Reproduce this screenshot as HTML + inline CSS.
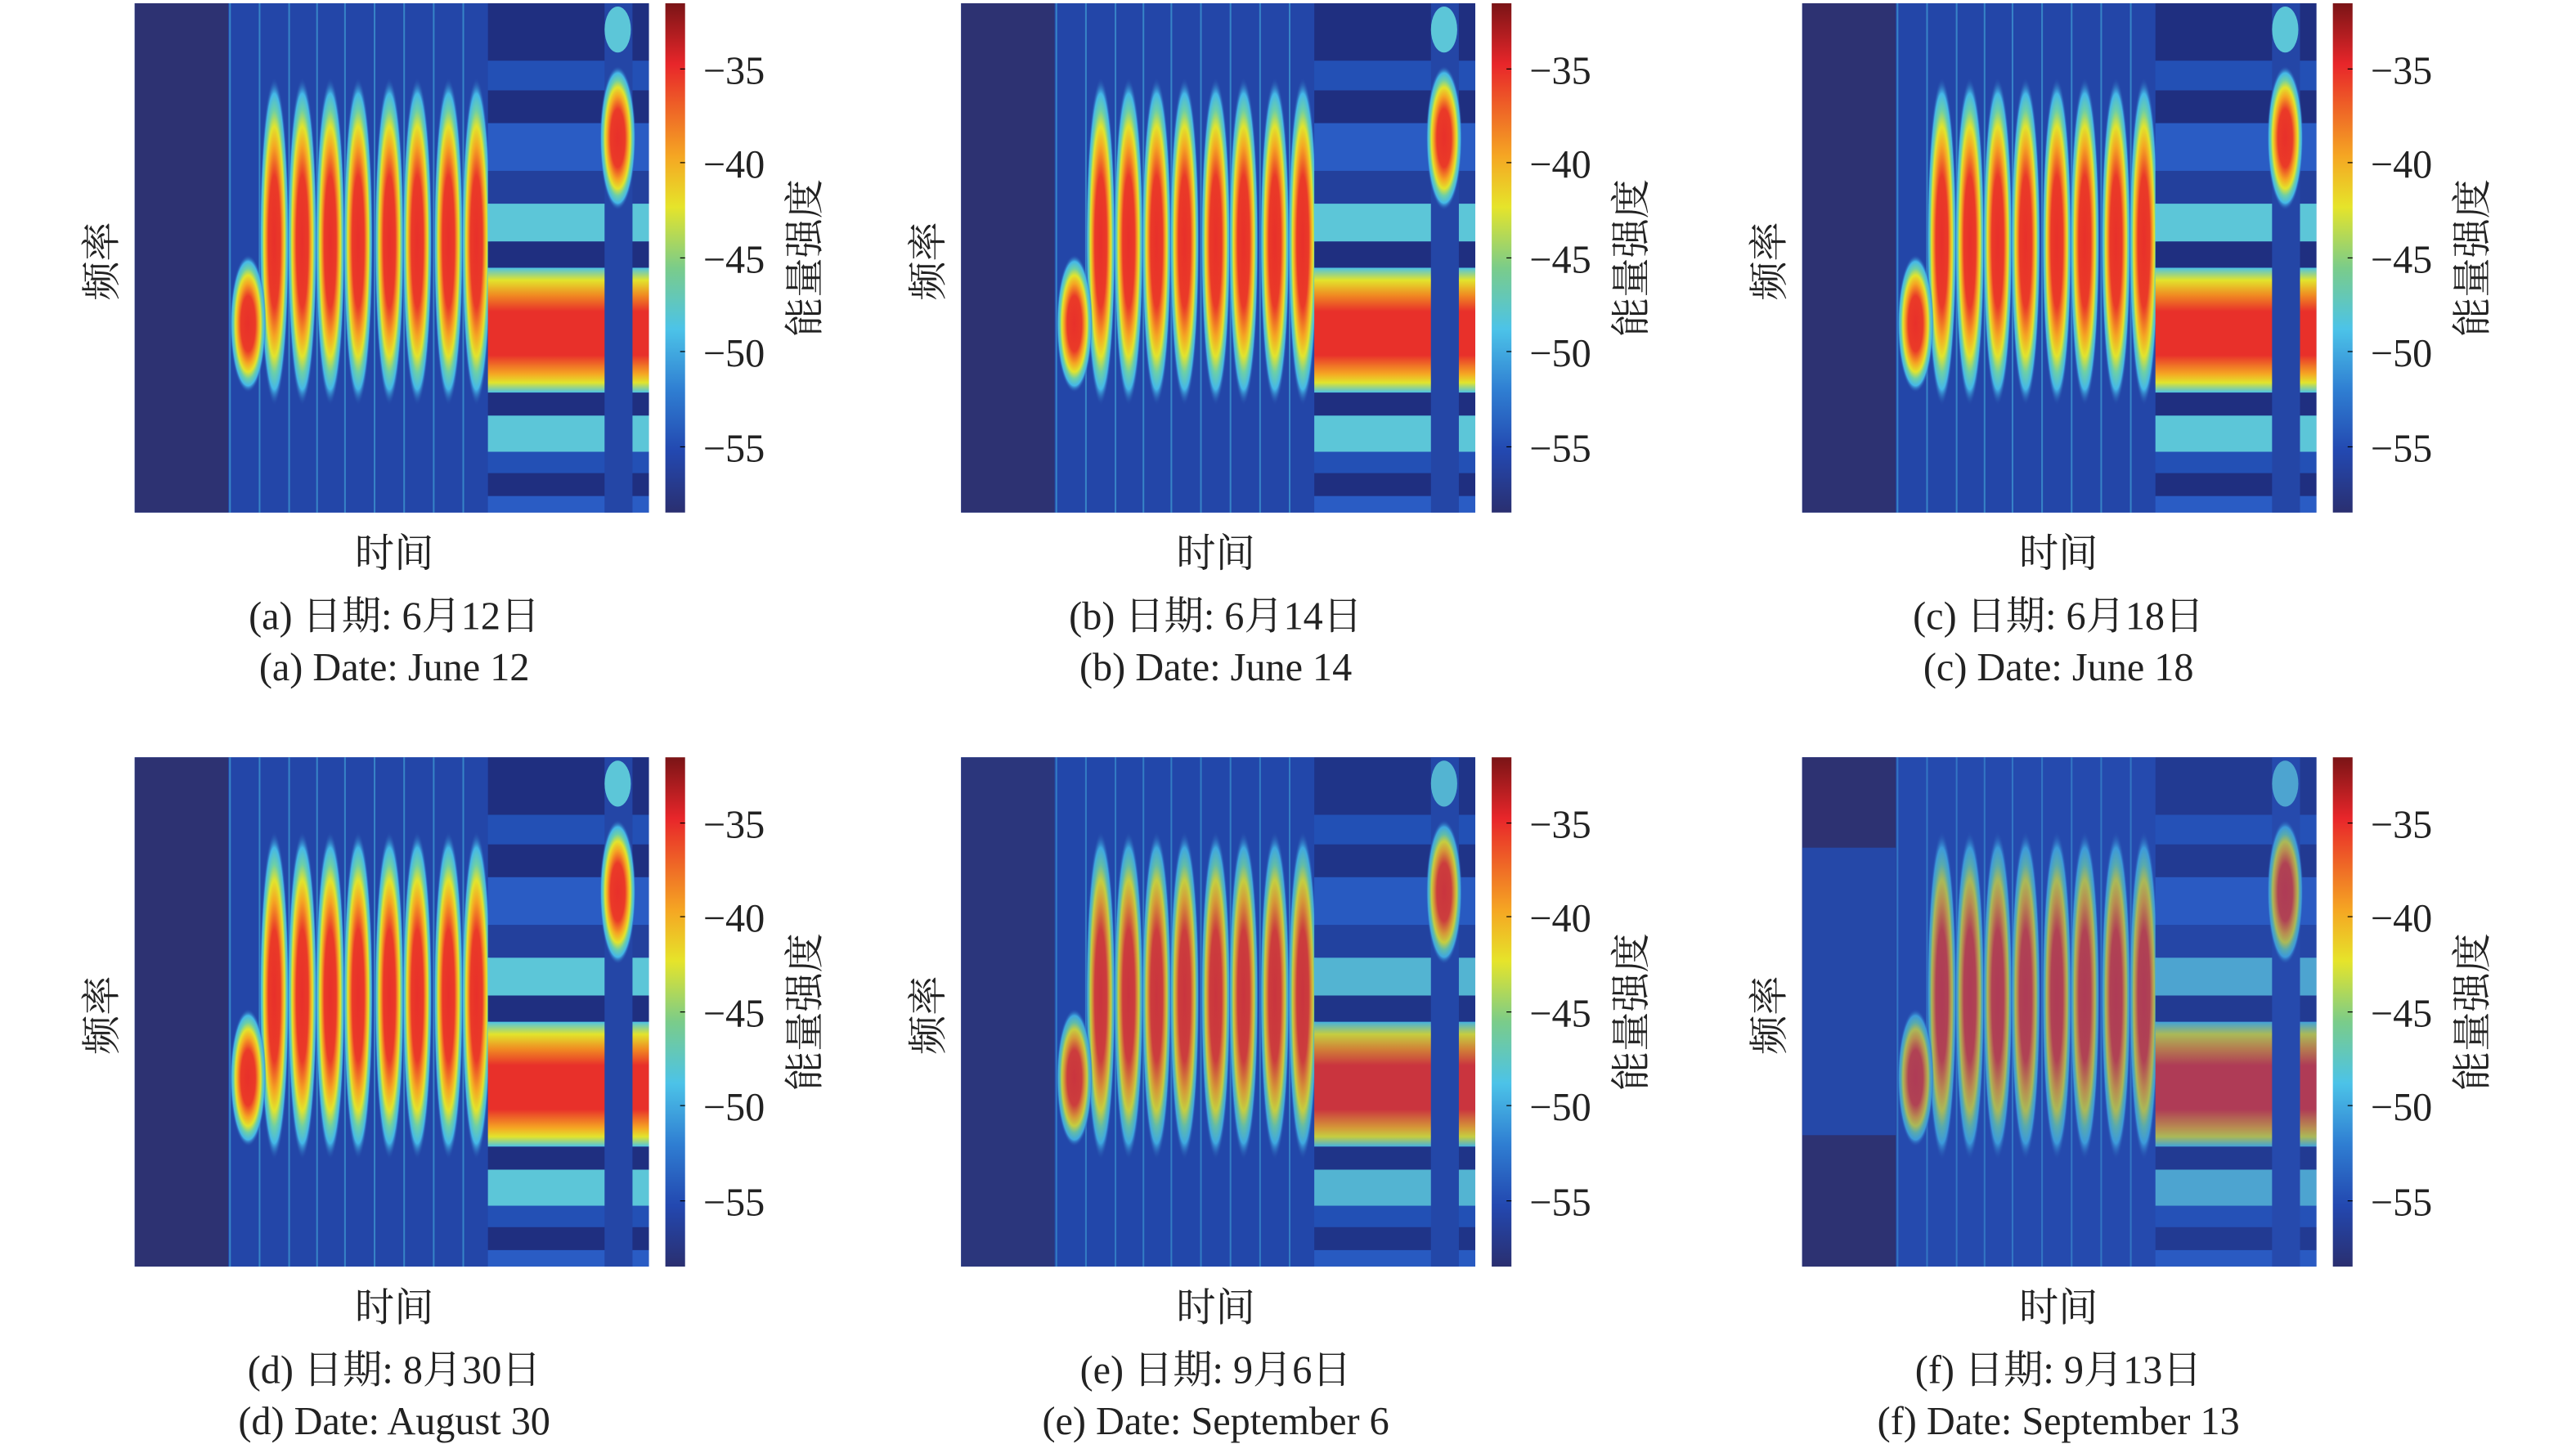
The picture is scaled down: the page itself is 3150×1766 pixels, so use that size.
<!DOCTYPE html>
<html><head><meta charset="utf-8"><style>html,body{margin:0;padding:0;background:#fff}svg{display:block}</style></head>
<body>
<svg width="3150" height="1766" viewBox="0 0 1568 879" preserveAspectRatio="none" xmlns="http://www.w3.org/2000/svg" font-family="'Liberation Serif','Noto Serif CJK SC',serif">
<defs>
<radialGradient id="lz"><stop offset="0" stop-color="#e8302a"/><stop offset="0.4" stop-color="#ea3a28"/><stop offset="0.58" stop-color="#f5a623"/><stop offset="0.7" stop-color="#e2e42c"/><stop offset="0.8" stop-color="#6ccfa8"/><stop offset="0.9" stop-color="#45b8e8"/><stop offset="1" stop-color="#2346a8" stop-opacity="0"/></radialGradient>
<linearGradient id="band" x1="0" y1="0" x2="0" y2="1"><stop offset="0" stop-color="#4cc3e6"/><stop offset="0.1" stop-color="#e2e42c"/><stop offset="0.22" stop-color="#f08a22"/><stop offset="0.35" stop-color="#e8302a"/><stop offset="0.7" stop-color="#e8302a"/><stop offset="0.85" stop-color="#f5a623"/><stop offset="0.92" stop-color="#e2e42c"/><stop offset="1" stop-color="#4cc3e6"/></linearGradient>
<linearGradient id="cb" x1="0" y1="0" x2="0" y2="1"><stop offset="0" stop-color="#7a1416"/><stop offset="0.12" stop-color="#e8262a"/><stop offset="0.3" stop-color="#f5a623"/><stop offset="0.4" stop-color="#e6e42a"/><stop offset="0.52" stop-color="#7acc8a"/><stop offset="0.64" stop-color="#4cc3e8"/><stop offset="0.76" stop-color="#2f7ed2"/><stop offset="0.88" stop-color="#2348b0"/><stop offset="1" stop-color="#2a2f70"/></linearGradient>
<g id="hm">
<rect width="313" height="310" fill="#2350b5"/>
<rect width="57" height="310" fill="#2d3272"/>
<rect x="57" width="158" height="310" fill="#2346a8"/>
<g stroke="#4cc3e6" stroke-width="1" opacity="0.5">
<line x1="58" y1="0" x2="58" y2="310"/><line x1="76" y1="0" x2="76" y2="310"/><line x1="94" y1="0" x2="94" y2="310"/><line x1="111" y1="0" x2="111" y2="310"/><line x1="128" y1="0" x2="128" y2="310"/><line x1="146" y1="0" x2="146" y2="310"/><line x1="164" y1="0" x2="164" y2="310"/><line x1="182" y1="0" x2="182" y2="310"/><line x1="200" y1="0" x2="200" y2="310"/></g>
<ellipse cx="85" cy="145" rx="9" ry="100" fill="url(#lz)"/><ellipse cx="102" cy="145" rx="9" ry="100" fill="url(#lz)"/><ellipse cx="119" cy="145" rx="9" ry="100" fill="url(#lz)"/><ellipse cx="136" cy="145" rx="9" ry="100" fill="url(#lz)"/><ellipse cx="155" cy="145" rx="9" ry="100" fill="url(#lz)"/><ellipse cx="172" cy="145" rx="9" ry="100" fill="url(#lz)"/><ellipse cx="191" cy="145" rx="9" ry="100" fill="url(#lz)"/><ellipse cx="208" cy="145" rx="9" ry="100" fill="url(#lz)"/>
<ellipse cx="69" cy="195" rx="11" ry="42" fill="url(#lz)"/>
<rect x="215" y="0" width="98" height="35" fill="#1f2f80"/>
<rect x="215" y="35" width="98" height="18" fill="#2350b5"/>
<rect x="215" y="53" width="98" height="20" fill="#1f2f80"/>
<rect x="215" y="73" width="98" height="29" fill="#2a5cc4"/>
<rect x="215" y="102" width="98" height="20" fill="#23409c"/>
<rect x="215" y="122" width="98" height="23" fill="#5cc6d8"/>
<rect x="215" y="145" width="98" height="16" fill="#1f2f80"/>
<rect x="215" y="161" width="98" height="76" fill="url(#band)"/>
<rect x="215" y="237" width="98" height="14" fill="#1f2f80"/>
<rect x="215" y="251" width="98" height="22" fill="#5cc6d8"/>
<rect x="215" y="273" width="98" height="13" fill="#2350b5"/>
<rect x="215" y="286" width="98" height="14" fill="#1f2f80"/>
<rect x="215" y="300" width="98" height="10" fill="#2a5cc4"/>
<rect x="286" y="0" width="17" height="310" fill="#2446a6"/>
<ellipse cx="294" cy="16" rx="8" ry="14" fill="#5cc6d8"/>
<ellipse cx="294" cy="82" rx="11" ry="44" fill="url(#lz)"/>
</g>
<g id="cbar">
<rect width="12" height="310" fill="url(#cb)"/>
<g stroke="#000" stroke-width="0.6"><line x1="9" y1="40" x2="12" y2="40"/><line x1="9" y1="97" x2="12" y2="97"/><line x1="9" y1="155" x2="12" y2="155"/><line x1="9" y1="212" x2="12" y2="212"/><line x1="9" y1="270" x2="12" y2="270"/></g>
</g>
<g id="lab" font-size="24" fill="#222">
<text x="23" y="49">−35</text><text x="23" y="106">−40</text><text x="23" y="164">−45</text><text x="23" y="221">−50</text><text x="23" y="279">−55</text>
</g>
</defs>

<g font-size="24" fill="#222">
<g transform="translate(82,2)"><use href="#hm"/><use href="#cbar" x="323"/><use href="#lab" x="323"/>
<text transform="translate(416,155) rotate(-90)" text-anchor="middle">能量强度</text>
<text transform="translate(-12,157) rotate(-90)" text-anchor="middle">频率</text>
<text x="158" y="343" text-anchor="middle">时间</text>
<text x="158" y="381" text-anchor="middle">(a) 日期: 6月12日</text>
<text x="158" y="412" text-anchor="middle">(a) Date: June 12</text></g>

<g transform="translate(585,2)"><use href="#hm"/><use href="#cbar" x="323"/><use href="#lab" x="323"/>
<text transform="translate(416,155) rotate(-90)" text-anchor="middle">能量强度</text>
<text transform="translate(-12,157) rotate(-90)" text-anchor="middle">频率</text>
<text x="155" y="343" text-anchor="middle">时间</text>
<text x="155" y="381" text-anchor="middle">(b) 日期: 6月14日</text>
<text x="155" y="412" text-anchor="middle">(b) Date: June 14</text></g>

<g transform="translate(1097,2)"><use href="#hm"/><use href="#cbar" x="323"/><use href="#lab" x="323"/>
<text transform="translate(416,155) rotate(-90)" text-anchor="middle">能量强度</text>
<text transform="translate(-12,157) rotate(-90)" text-anchor="middle">频率</text>
<text x="156" y="343" text-anchor="middle">时间</text>
<text x="156" y="381" text-anchor="middle">(c) 日期: 6月18日</text>
<text x="156" y="412" text-anchor="middle">(c) Date: June 18</text></g>

<g transform="translate(82,461)"><use href="#hm"/><use href="#cbar" x="323"/><use href="#lab" x="323"/>
<text transform="translate(416,155) rotate(-90)" text-anchor="middle">能量强度</text>
<text transform="translate(-12,157) rotate(-90)" text-anchor="middle">频率</text>
<text x="158" y="343" text-anchor="middle">时间</text>
<text x="158" y="381" text-anchor="middle">(d) 日期: 8月30日</text>
<text x="158" y="412" text-anchor="middle">(d) Date: August 30</text></g>

<g transform="translate(585,461)"><use href="#hm"/><rect width="313" height="310" fill="#2350b5" opacity="0.15"/><use href="#cbar" x="323"/><use href="#lab" x="323"/>
<text transform="translate(416,155) rotate(-90)" text-anchor="middle">能量强度</text>
<text transform="translate(-12,157) rotate(-90)" text-anchor="middle">频率</text>
<text x="155" y="343" text-anchor="middle">时间</text>
<text x="155" y="381" text-anchor="middle">(e) 日期: 9月6日</text>
<text x="155" y="412" text-anchor="middle">(e) Date: September 6</text></g>

<g transform="translate(1097,461)"><use href="#hm"/><rect width="313" height="310" fill="#2a55bd" opacity="0.3"/><rect width="57" height="310" fill="#2d3272"/><rect y="55" width="57" height="175" fill="#2548a8"/><use href="#cbar" x="323"/><use href="#lab" x="323"/>
<text transform="translate(416,155) rotate(-90)" text-anchor="middle">能量强度</text>
<text transform="translate(-12,157) rotate(-90)" text-anchor="middle">频率</text>
<text x="156" y="343" text-anchor="middle">时间</text>
<text x="156" y="381" text-anchor="middle">(f) 日期: 9月13日</text>
<text x="156" y="412" text-anchor="middle">(f) Date: September 13</text></g>
</g>
</svg>
</body></html>
